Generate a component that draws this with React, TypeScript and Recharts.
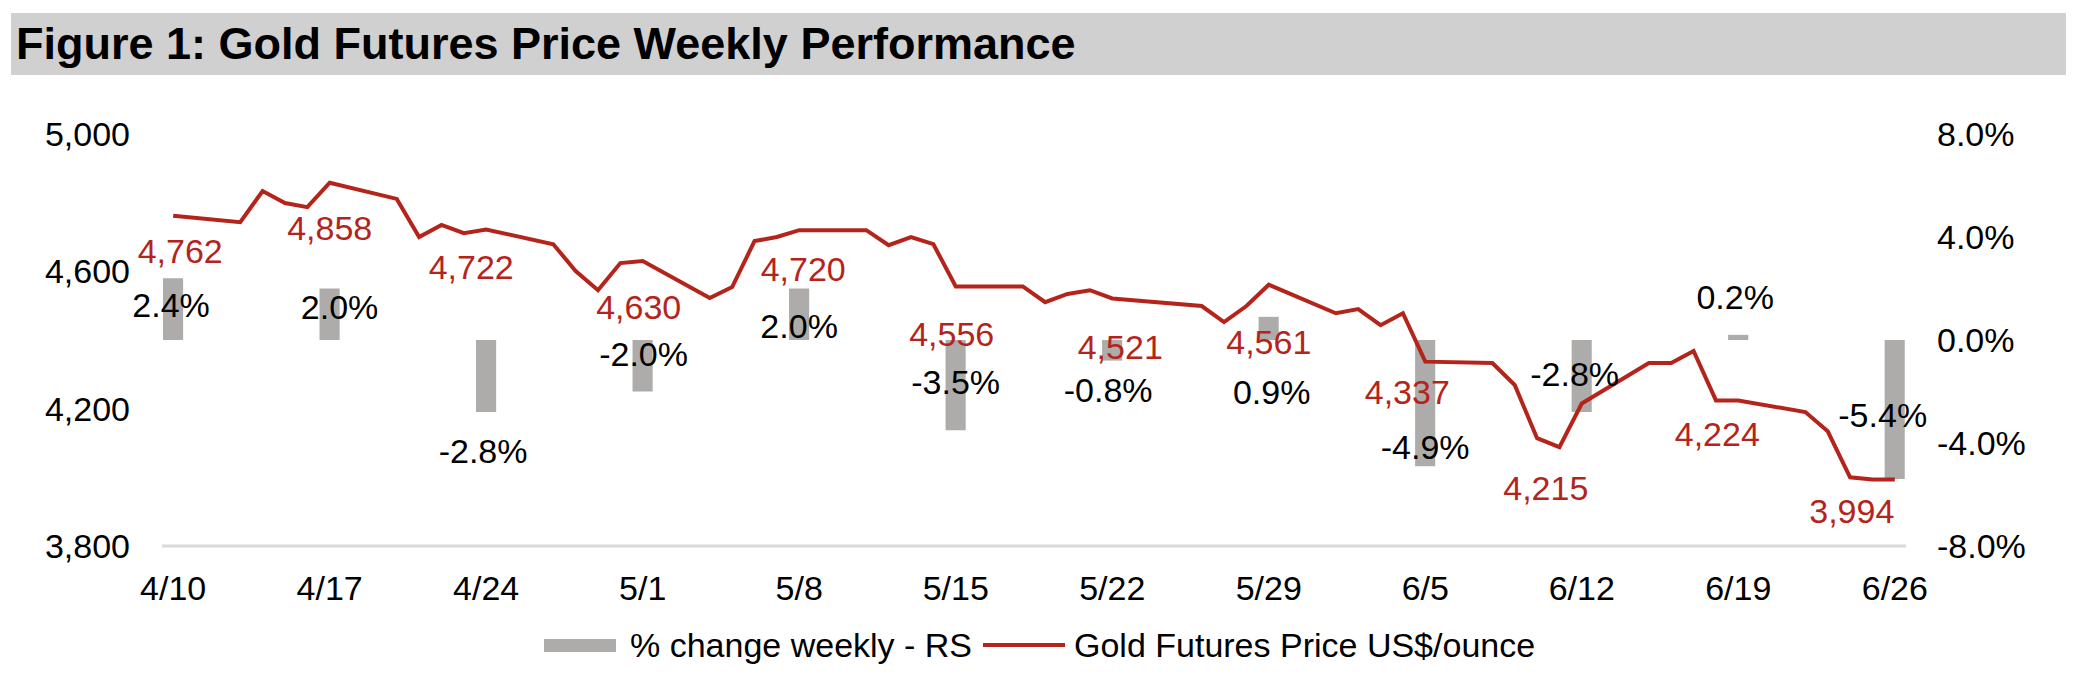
import React from 'react';
import { ComposedChart, Bar, Line, XAxis, YAxis, LabelList } from 'recharts';

const FONT = '"Liberation Sans", Arial, Helvetica, sans-serif';
const RED = '#B5241B';
const GRAY = '#ADACAA';

// daily settlement prices (trading days only)
const tradeDates = [
  '4/10', '4/13', '4/14', '4/15', '4/16', '4/17', '4/20', '4/21', '4/22', '4/23', '4/24',
  '4/27', '4/28', '4/29', '4/30', '5/1', '5/4', '5/5', '5/6', '5/7', '5/8',
  '5/11', '5/12', '5/13', '5/14', '5/15', '5/18', '5/19', '5/20', '5/21', '5/22',
  '5/26', '5/27', '5/28', '5/29', '6/1', '6/2', '6/3', '6/4', '6/5',
  '6/8', '6/9', '6/10', '6/11', '6/12', '6/15', '6/16', '6/17', '6/18', '6/19',
  '6/22', '6/23', '6/24', '6/25', '6/26',
];
const prices = [
  4762, 4743, 4834, 4799, 4787, 4858, 4811, 4700, 4735, 4711, 4722,
  4679, 4601, 4545, 4624, 4630, 4522, 4554, 4688, 4700, 4720,
  4720, 4676, 4700, 4679, 4556, 4556, 4510, 4534, 4545, 4521,
  4499, 4452, 4499, 4561, 4478, 4490, 4443, 4478, 4337,
  4333, 4269, 4114, 4088, 4215, 4333, 4333, 4368, 4224, 4224,
  4190, 4134, 4000, 3994, 3994,
];

// week-ending Fridays and the weekly % change
const weekEnds = ['4/10', '4/17', '4/24', '5/1', '5/8', '5/15', '5/22', '5/29', '6/5', '6/12', '6/19', '6/26'];
const weeklyChange = [2.4, 2.0, -2.8, -2.0, 2.0, -3.5, -0.8, 0.9, -4.9, -2.8, 0.2, -5.4];

const leftTicks = [3800, 4200, 4600, 5000];
const rightTicks = [-8, -4, 0, 4, 8];

// hand placement of the data labels: [dx, dy] from the line point / bar end
const priceLabelOffsets = [
  [7, 35], [0, 45], [-15, 37], [-4, 46], [4, 39], [-4, 47],
  [8, 48], [0, 57], [-18, 30], [-36, 84], [-21, 33], [-43, 31],
];
const changeLabelOffsets = [
  [-2, 27], [10, 18], [-3, 39], [1, -38], [0, 37], [0, -48],
  [-4, 29], [3, 75], [0, -19], [-7, -38], [-3, -38], [-12, -64],
];

// one row per calendar day so weekends keep their spacing on the axis
const table: { date: string; price: number | null; change: number | null }[] = [];
for (let d = new Date(2026, 3, 10); d <= new Date(2026, 5, 26); d.setDate(d.getDate() + 1)) {
  const key = `${d.getMonth() + 1}/${d.getDate()}`;
  const ti = tradeDates.indexOf(key);
  const wi = weekEnds.indexOf(key);
  table.push({
    date: key,
    price: ti >= 0 ? prices[ti] : null,
    change: wi >= 0 ? weeklyChange[wi] : null,
  });
}

const labelStyle = { fontFamily: FONT, fontSize: 34 };

const PriceLabel = (props: any) => {
  const wi = weekEnds.indexOf(props.value);
  if (wi < 0) return null;
  const vb = props.viewBox ?? props;
  const x = vb.x ?? props.x;
  const y = vb.y ?? props.y;
  if (x == null || y == null) return null;
  const [dx, dy] = priceLabelOffsets[wi];
  const price = prices[tradeDates.indexOf(props.value)];
  return (
    <text x={x + dx} y={y + dy} dy="0.36em" textAnchor="middle" fill={RED} style={labelStyle}>
      {price.toLocaleString('en-US')}
    </text>
  );
};

const ChangeLabel = (props: any) => {
  const wi = weekEnds.indexOf(props.value);
  if (wi < 0) return null;
  const vb = props.viewBox ?? props;
  const { x, y, width, height } = vb;
  if (x == null || y == null) return null;
  const v = weeklyChange[wi];
  const tip = v >= 0 ? Math.min(y, y + height) : Math.max(y, y + height);
  const [dx, dy] = changeLabelOffsets[wi];
  return (
    <text x={x + width / 2 + dx} y={tip + dy} dy="0.36em" textAnchor="middle" fill="#000" style={labelStyle}>
      {v.toFixed(1)}%
    </text>
  );
};

export default function App() {
  const tick = { fill: '#000', fontSize: 34, fontFamily: FONT };
  return (
    <div style={{ position: 'absolute', left: 0, top: 0, width: 2074, height: 684, background: '#fff', fontFamily: FONT }}>
      <div
        style={{
          position: 'absolute', left: 11, top: 13, width: 2055, height: 62,
          background: '#D1D0D1', fontWeight: 'bold', fontSize: 45, lineHeight: '62px',
          paddingLeft: 5, boxSizing: 'border-box', color: '#000', whiteSpace: 'nowrap',
        }}
      >
        Figure 1: Gold Futures Price Weekly Performance
      </div>

      <div style={{ position: 'absolute', left: 0, top: 0 }}>
        <ComposedChart
          width={2074}
          height={684}
          data={table}
          margin={{ top: 134, right: 0, bottom: 98, left: 0 }}
          barCategoryGap={0}
        >
          <XAxis
            dataKey="date"
            interval={6}
            tickLine={false}
            tickSize={0}
            tickMargin={30}
            axisLine={{ stroke: '#D9D9D9', strokeWidth: 3 }}
            tick={tick}
            height={40}
          />
          <YAxis
            yAxisId="left"
            orientation="left"
            domain={[3800, 5000]}
            ticks={leftTicks}
            width={162}
            axisLine={false}
            tickLine={false}
            tickSize={0}
            tickMargin={32}
            tick={tick}
            tickFormatter={(v: number) => v.toLocaleString('en-US')}
          />
          <YAxis
            yAxisId="right"
            orientation="right"
            domain={[-8, 8]}
            ticks={rightTicks}
            width={168}
            axisLine={false}
            tickLine={false}
            tickSize={0}
            tickMargin={31}
            tick={tick}
            tickFormatter={(v: number) => `${v.toFixed(1)}%`}
          />
          <Bar yAxisId="right" dataKey="change" fill={GRAY} barSize={23} isAnimationActive={false}>
            <LabelList dataKey="date" content={ChangeLabel} />
          </Bar>
          <Line
            yAxisId="left"
            dataKey="price"
            type="linear"
            stroke={RED}
            strokeWidth={4}
            dot={false}
            activeDot={false}
            connectNulls
            isAnimationActive={false}
          >
            <LabelList dataKey="date" content={PriceLabel} />
          </Line>
        </ComposedChart>
      </div>

      {/* legend */}
      <div style={{ position: 'absolute', left: 544, top: 639, width: 72, height: 13, background: GRAY }} />
      <div style={{ position: 'absolute', left: 630, top: 645, transform: 'translateY(-50%)', fontSize: 34, lineHeight: 1, whiteSpace: 'nowrap' }}>
        % change weekly - RS
      </div>
      <div style={{ position: 'absolute', left: 983, top: 643, width: 82, height: 4, background: RED }} />
      <div style={{ position: 'absolute', left: 1074, top: 645, transform: 'translateY(-50%)', fontSize: 34, lineHeight: 1, whiteSpace: 'nowrap' }}>
        Gold Futures Price US$/ounce
      </div>
    </div>
  );
}
